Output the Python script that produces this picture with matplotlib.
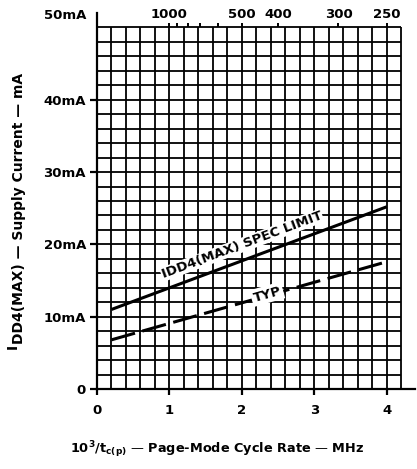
import numpy as np
import matplotlib
matplotlib.use('Agg')
import matplotlib.pyplot as plt

# Data (x = 10^3/tc(p) in MHz, y = mA)
rate_mhz = [0.2, 4.0]
idd4_max = [11.0, 25.2]
idd4_typ = [6.8, 17.6]

y_ticks = [0, 10, 20, 30, 40]
y_tick_labels = ['0', '10mA', '20mA', '30mA', '40mA']
x_ticks = [0, 1, 2, 3, 4]
cycle_ns_major = [1000, 500, 400, 300, 250]
cycle_ns_minor = [900, 800, 700, 600]

plt.rcParams['font.family'] = ['DejaVu Sans']
plt.rcParams['font.weight'] = 'bold'
plt.rcParams['mathtext.default'] = 'bf'

fig = plt.figure(figsize=(4.17, 4.69), dpi=100)
ax = fig.add_axes([97 / 417, 80 / 469, 318 / 417, 376 / 469])
ax.set_xlim(0, 4.39)
ax.set_ylim(0, 52)

# graph-paper grid
gx = np.arange(0.2, 4.21, 0.2)
gy = np.arange(2, 50.1, 2)
ax.vlines(gx, 0, 50, color='black', lw=1.3, zorder=1)
ax.hlines(gy, 0, 4.2, color='black', lw=1.3, zorder=1)

ax.spines['top'].set_visible(False)
ax.spines['right'].set_visible(False)
ax.spines['left'].set_linewidth(1.6)
ax.spines['bottom'].set_linewidth(1.6)

ax.set_yticks(y_ticks, y_tick_labels)
ax.set_xticks(x_ticks, [str(v) for v in x_ticks])
ax.tick_params(axis='y', direction='out', length=5, width=1.6, pad=3, labelsize=9.5)
ax.tick_params(axis='x', direction='out', length=4.5, width=1.6, pad=6, labelsize=9.5)
ax.annotate('50mA', xy=(0, 50), xytext=(-11, 12), textcoords='offset pixels',
            ha='right', va='center', fontsize=9.5, fontweight='bold')

# cycle time scale (ns) along the top of the grid
secax = ax.secondary_xaxis(50 / 52)
secax.set_xticks([1000 / v for v in cycle_ns_major], [str(v) for v in cycle_ns_major])
secax.set_xticks([1000 / v for v in cycle_ns_minor], minor=True)
for s in secax.spines.values():
    s.set_visible(False)
secax.tick_params(which='both', direction='out', length=3, width=1.4, pad=1.5, labelsize=9.5)

ax.plot(rate_mhz, idd4_max, color='black', lw=2.2, solid_capstyle='butt', zorder=3)
ax.plot(rate_mhz, idd4_typ, color='black', lw=2.2, dashes=(8, 2.5), zorder=3)


def slope_angle(xs, ys):
    p = ax.transData.transform(np.column_stack([xs, ys]))
    return np.degrees(np.arctan2(p[1, 1] - p[0, 1], p[1, 0] - p[0, 0]))


ax.text(2.0, 19.9, 'IDD4(MAX) SPEC LIMIT', rotation=slope_angle(rate_mhz, idd4_max),
        rotation_mode='anchor', ha='center', va='center', fontsize=9.5,
        bbox=dict(fc='white', ec='none', pad=0.5), zorder=4)
ax.text(2.35, 13.1, 'TYP', rotation=slope_angle(rate_mhz, idd4_typ),
        rotation_mode='anchor', ha='center', va='center', fontsize=9.5,
        bbox=dict(fc='white', ec='none', pad=1.5), zorder=4)

fig.text(217 / 417, 1 - 450 / 469,
         r'10$^{3}$/t$_{c(p)}$ — Page-Mode Cycle Rate — MHz',
         ha='center', va='center', fontsize=9.3)

# y label: raised "I" followed by the rest of the label
fig.text(13 / 417, 1 - 346.5 / 469, 'I', ha='center', va='center',
         rotation=90, fontsize=10)
fig.text(19 / 417, 1 - 344 / 469, 'DD4(MAX) — Supply Current — mA',
         ha='center', va='bottom', rotation=90, fontsize=10)

fig.savefig('out.png', dpi=100)
